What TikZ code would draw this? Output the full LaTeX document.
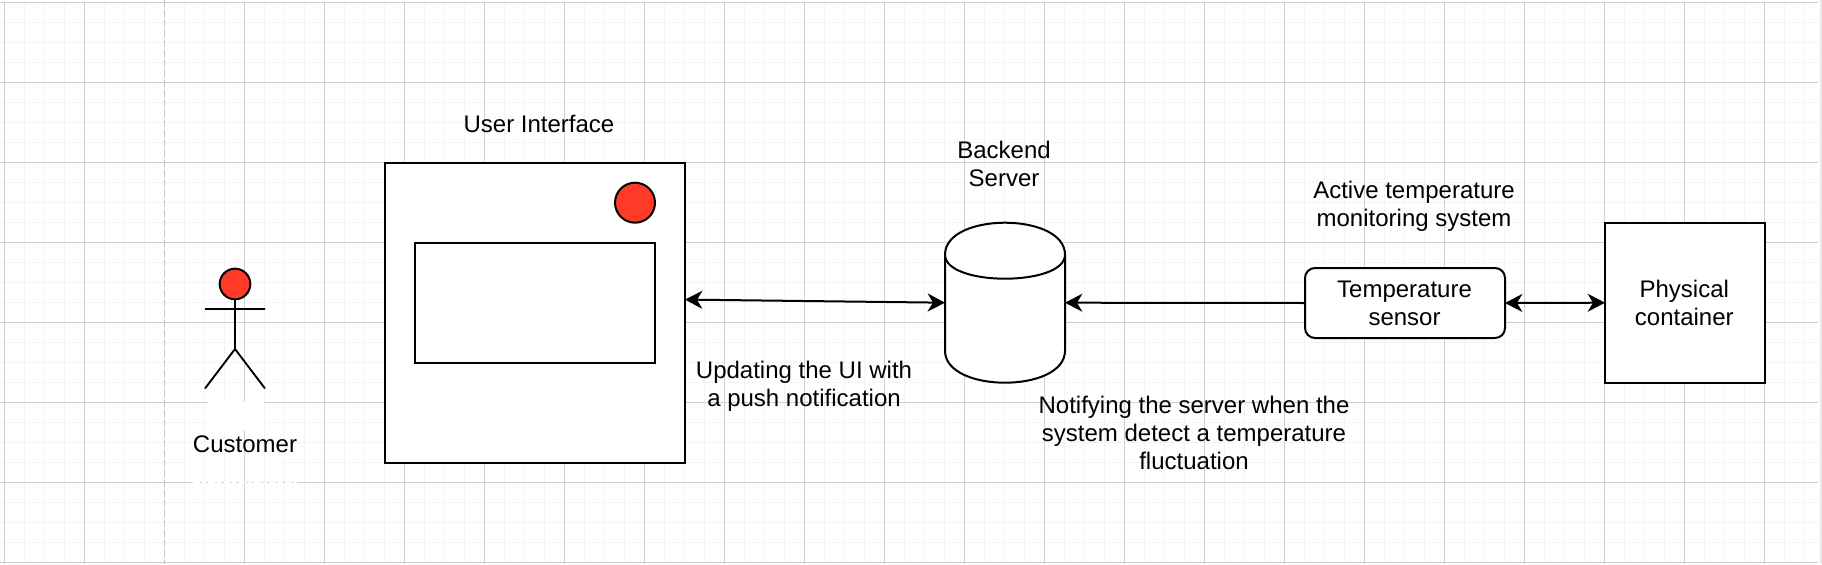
\documentclass[tikz,border=0pt]{standalone}
\usepackage{fontspec}
\setmainfont{Liberation Sans}
\usetikzlibrary{arrows.meta}
\definecolor{gridmajor}{HTML}{D0D0D0}
\definecolor{gridminor}{HTML}{F4F4F4}
\definecolor{pagebreak}{HTML}{C4C4C4}
\definecolor{alert}{HTML}{FF3B28}
\tikzset{
  x=0.75pt,y=-0.75pt,
  tip/.style={},
  shapeline/.style={draw=black,line width=1.5pt,fill=white},
  plainbox/.style={shapeline,rectangle,inner sep=0pt,outer sep=0pt,anchor=north west},
  reddot/.style={draw=black,line width=1.5pt,fill=alert,circle,inner sep=0pt,outer sep=0pt},
  shapetext/.style={inner sep=0pt,align=center,font=\fontsize{18}{21}\selectfont},
  label/.style={shapetext,anchor=base},
  link/.style={line width=1.5pt,-{Stealth[length=13pt,width=13.5pt,inset=4pt]}},
  biglink/.style={line width=1.5pt,{Stealth[length=13pt,width=13.5pt,inset=4pt]}-{Stealth[length=13pt,width=13.5pt,inset=4pt]}},
}
\begin{document}
\begin{tikzpicture}
\useasboundingbox (0,0) rectangle (1822,564);
\fill[white] (0,0) rectangle (1822,564);
\fill[gridminor!70!gridmajor] (1820,0) rectangle (1822,564);
% minor grid
\foreach \i in {0,...,90}{\draw[gridminor,line width=0.9pt] ({4.5+20*\i},2) -- ({4.5+20*\i},562.5);}
\foreach \j in {0,...,28}{\draw[gridminor,line width=0.9pt] (0,{2.5+20*\j}) -- (1818,{2.5+20*\j});}
% major grid
\foreach \i in {0,1,3,4,5,6,7,8,9,10,11,12,13,14,15,16,17,18,19,20,21,22}{\draw[gridmajor,line width=0.75pt] ({4.5+80*\i},2) -- ({4.5+80*\i},564);}
\foreach \j in {0,...,7}{\draw[gridmajor,line width=0.75pt] (0,{2.5+80*\j}) -- (1818,{2.5+80*\j});}
% page break
\draw[pagebreak,line width=1.4pt,dash pattern=on 5pt off 2.5pt] (164.5,0) -- (164.5,564);
% remains of white text over the grid
\fill[white] (208,402) rectangle (264,430);
\draw[white,line width=1pt,dash pattern=on 6pt off 1.5pt on 3pt off 2pt] (186,462.5) -- (280,462.5);
\draw[white,line width=1pt,dash pattern=on 5pt off 1.5pt on 3pt off 2pt] (193,482.5) -- (297,482.5);

% actor
\node[reddot,minimum size=23pt] (head) at (235,284) {};
\coordinate (hip) at (235,349);
\coordinate (shoulderL) at (205,309);
\coordinate (shoulderR) at (265,309);
\coordinate (footL) at (205,388.5);
\coordinate (footR) at (265,388.5);
\draw[line width=1.4pt] (head) -- (hip) (shoulderL) -- (shoulderR) (footL) -- (hip) -- (footR);
\node[label] (customer) at (245,452) {Customer};

% user interface
\node[plainbox,minimum width=225pt,minimum height=225pt] (ui) at (385,162.7) {};
\node[plainbox,minimum width=180pt,minimum height=90pt] (screen) at (415,242.7) {};
\node[reddot,minimum size=30pt] (badge) at (635,202.7) {};
\node[label] (uilabel) at (539,132) {User Interface};

% backend server
\node[rectangle,inner sep=0pt,outer sep=0pt,anchor=north west,minimum width=90pt,minimum height=120pt] (srv) at (945,222.7) {};
\begin{scope}[shift={(srv.north west)}]
\draw[shapeline] (0,32) .. controls (0,-10.67) and (120,-10.67) .. (120,32)
  -- (120,128) .. controls (120,170.67) and (0,170.67) .. (0,128) -- cycle;
\draw[line width=1.5pt] (0,32) .. controls (0,64) and (120,64) .. (120,32);
\end{scope}
\node[label] (srvlabel) at (1004,186) {Backend\\Server};

% sensor and container
\node[shapeline,rectangle,rounded corners=7.5pt,inner sep=0pt,outer sep=0pt,anchor=north west,minimum width=150pt,minimum height=52.5pt] (sens) at (1305,268) {};
\node[label] (senslabel) at (1404.5,325.7) {Temperature\\sensor};
\node[plainbox,minimum width=120pt,minimum height=120pt] (box) at (1605,222.7) {};
\node[label] (boxlabel) at (1684.3,325.7) {Physical\\container};

% other captions
\node[label] (activelabel) at (1414,226) {Active temperature\\monitoring system};
\node[label] (pushlabel) at (804,406) {Updating the UI with\\a push notification};
\node[label] (notifylabel) at (1194,469.3) {Notifying the server when the\\system detect a temperature\\fluctuation};

% connectors
\draw[biglink] (ui.5.14) -- (srv.west);
\draw[link] (sens.west) -- (srv.east);
\draw[biglink] (sens.east) -- (box.west);
\end{tikzpicture}
\end{document}
